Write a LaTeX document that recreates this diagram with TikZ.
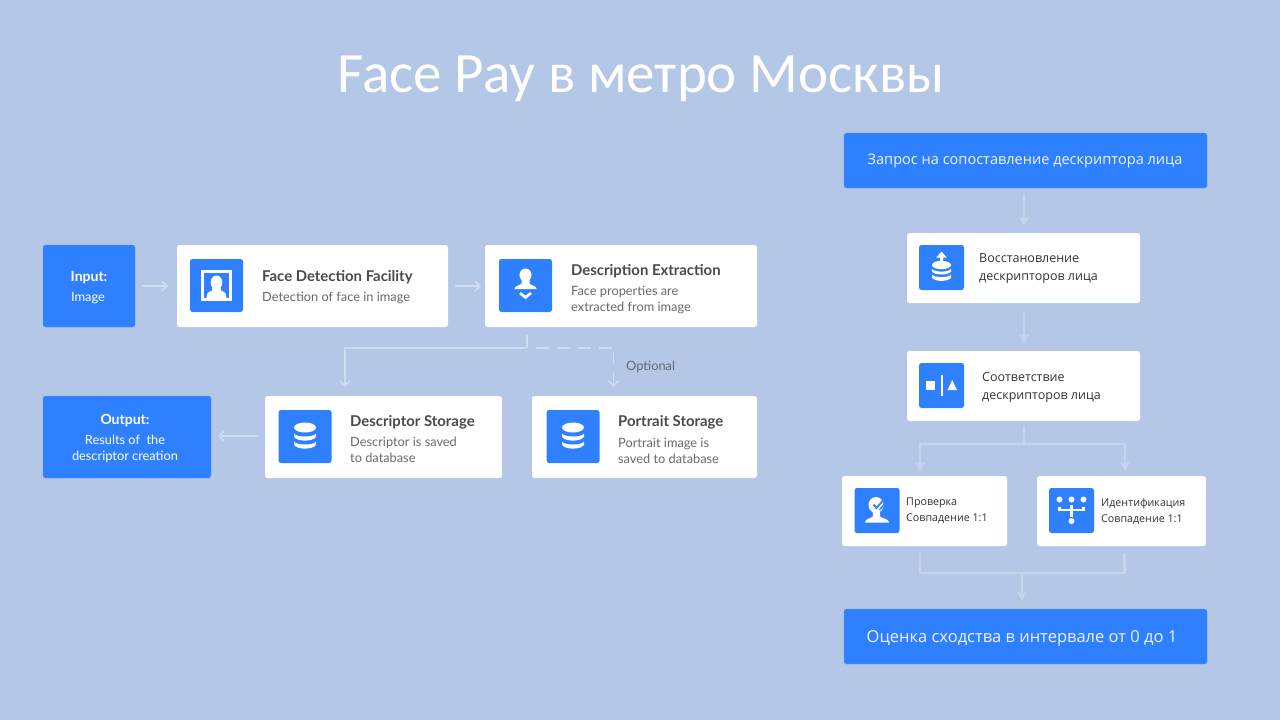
\documentclass[tikz,border=0pt]{standalone}
\usepackage{fontspec}
\setmainfont{Lato}
\newfontfamily\titlefont{Carlito}
\newfontfamily\rufont{Open Sans}
\usetikzlibrary{arrows.meta,calc,positioning}
\definecolor{bgc}{HTML}{B4C7E7}
\definecolor{blu}{HTML}{2F80FF}
\definecolor{conc}{HTML}{C6D4EB}
\definecolor{conl}{HTML}{CFDBEF}
\definecolor{shc}{HTML}{7F9CCB}
\definecolor{ttl}{HTML}{4A4A4A}
\definecolor{sub}{HTML}{666A70}
\definecolor{rutxt}{HTML}{333333}
\pgfdeclarelayer{shadow}
\pgfsetlayers{shadow,main}
\newcommand\softshadow[1]{%
  \begin{pgfonlayer}{shadow}
  \foreach \e in {1,3,...,21}{
    \fill[shc,opacity=0.04,rounded corners=6pt]
      ($(#1.south west)+(-\e pt+4pt,\e pt+3pt)$) rectangle ($(#1.north east)+(\e pt-4pt,-\e pt+10pt)$);
  }
  \end{pgfonlayer}}
\tikzset{
  x=1pt,y=-1pt,
  cardbox/.style={fill=white,rounded corners=2.5pt,anchor=north west,inner sep=0,outer sep=0},
  bluebox/.style={fill=blu,draw=blu!80!white,line width=.4pt,rounded corners=2.5pt,anchor=north west,inner sep=0,outer sep=0},
  iconbox/.style={fill=blu,rounded corners=2.5pt,anchor=center,inner sep=0,outer sep=0},
  conn/.style={draw=conc,line width=2.3pt,-{Stealth[length=9pt,width=10pt,inset=1.5pt]}},
  connplain/.style={draw=conc,line width=2.3pt},
  connopen/.style={draw=conl,line width=1.7pt,-{Straight Barb[length=5pt,width=10pt]}},
  connlplain/.style={draw=conl,line width=1.7pt},
  ttext/.style={anchor=west,inner sep=0,font=\bfseries\fontsize{14.9}{17}\selectfont,text=ttl},
  stext/.style={anchor=west,inner sep=0,align=left,font=\fontsize{12.8}{16}\selectfont,text=sub},
  rtext/.style={anchor=west,inner sep=0,align=left,font=\rufont\fontsize{12.5}{18}\selectfont,text=rutxt},
  rstext/.style={anchor=west,inner sep=0,align=left,font=\rufont\fontsize{10.7}{16}\selectfont,text=rutxt},
  wtext/.style={anchor=center,inner sep=0,align=center,text=white},
}
\newcommand\dbstack[1]{%
  \begin{scope}[shift={(#1)}]
  \fill[white] (0,-9) ellipse [x radius=11,y radius=5];
  \fill[white] (-11,-3) .. controls (-9,1) and (9,1) .. (11,-3) -- (11,0) .. controls (9,5.5) and (-9,5.5) .. (-11,0) -- cycle;
  \fill[white] (-11,5) .. controls (-9,9) and (9,9) .. (11,5) -- (11,8) .. controls (9,13.5) and (-9,13.5) .. (-11,8) -- cycle;
  \end{scope}}
\begin{document}
\begin{tikzpicture}
\path[use as bounding box,fill=bgc] (0,0) rectangle (1280,720);

\node[anchor=center,inner sep=0,text=white,font=\titlefont\fontsize{57}{60}\selectfont] (title) at (641,79) {Face Pay в метро Москвы};

% left boxes
\node[bluebox,minimum width=92pt,minimum height=82pt] (input) at (43,245) {};
\node[cardbox,minimum width=271pt,minimum height=82pt] (face) at (177,245) {};
\node[cardbox,minimum width=272pt,minimum height=82pt] (desc) at (485,245) {};
\node[bluebox,minimum width=168pt,minimum height=82pt] (output) at (43,396) {};
\node[cardbox,minimum width=237pt,minimum height=82pt] (dst) at (265,396) {};
\node[cardbox,minimum width=225pt,minimum height=82pt] (pst) at (532,396) {};
% right boxes
\node[bluebox,minimum width=363pt,minimum height=55pt] (req) at (844,133) {};
\node[cardbox,minimum width=233pt,minimum height=70pt] (rest) at (907,233) {};
\node[cardbox,minimum width=233pt,minimum height=70pt] (match) at (907,351) {};
\node[cardbox,minimum width=165pt,minimum height=70pt] (verif) at (842,476) {};
\node[cardbox,minimum width=169pt,minimum height=70pt] (ident) at (1037,476) {};
\node[bluebox,minimum width=363pt,minimum height=55pt] (score) at (844,609) {};
\softshadow{face}\softshadow{desc}\softshadow{dst}\softshadow{pst}
\softshadow{rest}\softshadow{match}\softshadow{verif}\softshadow{ident}

% left text
\node[wtext,font=\bfseries\fontsize{14}{16}\selectfont] (inputT) at (89,277.5) {Input:};
\node[wtext,font=\fontsize{12.8}{16}\selectfont] (inputS) at (88,298) {Image};
\node[ttext] (faceT) at (262,277) {Face Detection Facility};
\node[stext] (faceS) at (262,297.5) {Detection of face in image};
\node[ttext] (descT) at (571,271) {Description Extraction};
\node[stext] (descS) at (571,299.5) {Face properties are\\extracted from image};
\node[wtext,font=\bfseries\fontsize{14}{16}\selectfont] (outputT) at (125,421) {Output:};
\node[wtext,font=\fontsize{12.8}{16}\selectfont] (outputS) at (125,449) {Results of\ \ the\\descriptor creation};
\node[ttext] (dstT) at (350,422) {Descriptor Storage};
\node[stext] (dstS) at (350,449.5) {Descriptor is saved\\to database};
\node[ttext] (pstT) at (618,422.5) {Portrait Storage};
\node[stext] (pstS) at (618,450.5) {Portrait image is\\saved to database};
\node[anchor=west,inner sep=0,text=sub,font=\fontsize{12.8}{15}\selectfont] (opt) at (626,367) {Optional};

% right text
\node[wtext,text=white!92!blu,font=\rufont\fontsize{14.55}{17}\selectfont] (reqT) at (1025,161) {Запрос на сопоставление дескриптора лица};
\node[rtext] (restT) at (979,269) {Восстановление\\дескрипторов лица};
\node[rtext] (matchT) at (982,387) {Соответствие\\дескрипторов лица};
\node[rstext] (verifT) at (906,511) {Проверка\\Совпадение 1:1};
\node[rstext] (identT) at (1101,511) {Идентификация\\Совпадение 1:1};
\node[wtext,text=white!92!blu,font=\rufont\fontsize{16.5}{20}\selectfont] (scoreT) at (1022,638.5) {Оценка сходства в интервале от 0 до 1};

% icons
\node[iconbox,minimum size=53pt] (ic1) at (216.5,285.5) {};
\node[iconbox,minimum size=53pt] (ic2) at (525.5,285.5) {};
\node[iconbox,minimum size=53pt] (ic3) at (305,436.5) {};
\node[iconbox,minimum size=53pt] (ic4) at (573,436.5) {};
\node[iconbox,minimum size=45pt] (ic5) at (941.5,267.5) {};
\node[iconbox,minimum size=45pt] (ic6) at (941.5,385.5) {};
\node[iconbox,minimum size=45pt] (ic7) at (877,510.5) {};
\node[iconbox,minimum size=45pt] (ic8) at (1071.5,510.5) {};

% icon 1: framed bust
\begin{scope}[shift={(ic1.center)}]
  \draw[white,line width=2.6pt] (-14,-14) rectangle (14,14);
  \fill[white] (0,-3) ellipse [x radius=5.8,y radius=7];
  \fill[white] (-4,0) -- (4,0) -- (4.5,5) .. controls (8,6.5) and (10,7) .. (10,13) -- (-10,13) .. controls (-10,7) and (-8,6.5) .. (-4.5,5) -- cycle;
\end{scope}
% icon 2: bust and chevron
\begin{scope}[shift={(ic2.center)}]
  \fill[white] (0,-10.5) ellipse [x radius=6,y radius=6.5];
  \fill[white] (-4,-8) -- (4,-8) -- (4,-2) .. controls (5,0) and (11,0) .. (11,3.5) -- (-11,3.5) .. controls (-11,0) and (-5,0) .. (-4,-2) -- cycle;
  \draw[white,line width=2.6pt] (-5.5,7.5) -- (0,12) -- (5.5,7.5);
\end{scope}
% icons 3,4: database
\dbstack{ic3.center}
\dbstack{ic4.center}
% icon 5: database with up arrow
\begin{scope}[shift={(ic5.center)}]
  \fill[white] (0,-2.5) ellipse [x radius=9.5,y radius=4.2];
  \fill[white] (-9.5,1.5) .. controls (-7,5) and (7,5) .. (9.5,1.5) -- (9.5,4) .. controls (7,8) and (-7,8) .. (-9.5,4) -- cycle;
  \fill[white] (-9.5,7) .. controls (-7,10.5) and (7,10.5) .. (9.5,7) -- (9.5,10) .. controls (7,14.5) and (-7,14.5) .. (-9.5,10) -- cycle;
  \fill[white] (-1.5,-3) -- (-1.5,-10) -- (-5.2,-10) -- (0,-16) -- (5.2,-10) -- (1.5,-10) -- (1.5,-3) -- cycle;
\end{scope}
% icon 6: square, bar, triangle
\begin{scope}[shift={(ic6.center)}]
  \fill[white] (-15.5,-4.5) rectangle (-6.5,4.5);
  \fill[white] (-1,-11) rectangle (1.2,10.5);
  \fill[white] (6,4.5) -- (10.7,-5.5) -- (15.5,4.5) -- cycle;
\end{scope}
% icon 7: bust with check
\begin{scope}[shift={(ic7.center)}]
  \fill[white] (-1,-5.5) ellipse [x radius=7.5,y radius=8];
  \fill[white] (-4.5,0) -- (3,0) -- (3,6) .. controls (5,8) and (12,8) .. (12,12) -- (-12,12) .. controls (-12,8) and (-6,8) .. (-4,6) -- cycle;
  \draw[blu,line width=1.8pt] (-3.5,-6) -- (-.5,-2.5) -- (6,-10);
  \draw[blu,line width=1.5pt] (2.5,-.5) -- (8,-7);
\end{scope}
% icon 8: tree
\begin{scope}[shift={(ic8.center)}]
  \foreach \q in {-12,0,12}{\fill[white] (\q,-11) circle (3);}
  \fill[white] (0,10.5) circle (3);
  \draw[white,line width=2.2pt] (-12,-4) -- (-12,-.5) -- (12,-.5) -- (12,-4);
  \draw[white,line width=2.2pt] (0,-6) -- (0,6);
\end{scope}

% connectors
\draw[connopen,shorten <=7pt,shorten >=9pt] (input.east |- 0,286) -- (face.west |- 0,286);
\draw[connopen,shorten <=7pt,shorten >=4pt] (face.east |- 0,286) -- (desc.west |- 0,286);
\draw[connopen,shorten <=7pt,shorten >=7pt] (dst.west |- 0,436) -- (output.east |- 0,436);

\coordinate (dj) at (527,348);
\coordinate (dl) at (345,348);
\coordinate (dr) at (613.5,348);
\coordinate (dv1) at (613.5,352);
\coordinate (dv2) at (613.5,364);
\coordinate (dv3) at (613.5,372);
\draw[connlplain,shorten <=7pt] (desc.south -| dj) -- (dj);
\draw[connopen,shorten >=9pt] (dj) -- (dl) -- (dst.north -| dl);
\draw[connlplain,dash pattern=on 13pt off 8pt,shorten <=9pt] (dj) -- (dr);
\draw[connlplain] (dv1) -- (dv2);
\draw[connopen,shorten >=9pt] (dv3) -- (pst.north -| dv3);

\draw[conn,shorten <=7pt,shorten >=7pt] (req.south -| 1024,0) -- (rest.north -| 1024,0);
\draw[conn,shorten <=8pt,shorten >=8pt] (rest.south -| 1024,0) -- (match.north -| 1024,0);
\coordinate (sp) at (1024,444);
\coordinate (spl) at (920,444);
\coordinate (spr) at (1125,444);
\draw[connplain,shorten <=5pt] (match.south -| sp) -- (sp);
\draw[conn,shorten >=5pt] (sp) -- (spl) -- (verif.north -| spl);
\draw[conn,shorten >=5pt] (sp) -- (spr) -- (ident.north -| spr);
\coordinate (mj) at (1022,573);
\coordinate (ml) at (920,573);
\coordinate (mr) at (1124.5,573);
\draw[connplain,shorten <=7pt] (verif.south -| ml) -- (ml) -- (mj);
\draw[connplain,shorten <=7pt] (ident.south -| mr) -- (mr) -- (mj);
\draw[conn,shorten >=8pt] (mj) -- (score.north -| mj);
\end{tikzpicture}
\end{document}
